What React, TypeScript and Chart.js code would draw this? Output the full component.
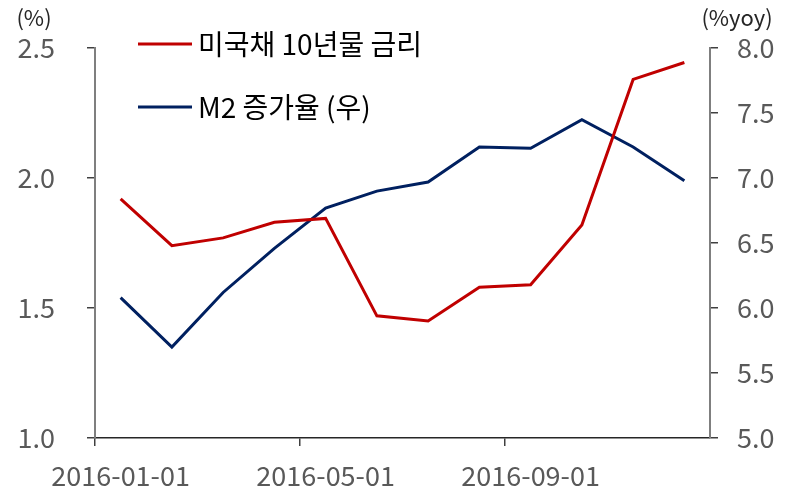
import React, { useEffect, useRef } from "react";
import { Chart, registerables } from "chart.js";

Chart.register(...registerables);

const categories = [
  "2016-01-01", "2016-02-01", "2016-03-01", "2016-04-01", "2016-05-01", "2016-06-01",
  "2016-07-01", "2016-08-01", "2016-09-01", "2016-10-01", "2016-11-01", "2016-12-01",
];
const treasury10y = [1.92, 1.74, 1.77, 1.83, 1.845, 1.47, 1.45, 1.58, 1.59, 1.82, 2.38, 2.445];
const m2Growth = [6.08, 5.70, 6.12, 6.46, 6.77, 6.90, 6.97, 7.24, 7.23, 7.45, 7.24, 6.98];
const seriesNames = ["미국채 10년물 금리", "M2 증가율 (우)"];
const leftUnit = "(%)";
const rightUnit = "(%yoy)";

const FONT = "'Noto Sans CJK KR', 'Noto Sans', sans-serif";
const RED = "#C00000";
const BLUE = "#002060";

const overlayPlugin = {
  id: "overlay",
  afterDraw(chart: any) {
    const { ctx } = chart;
    ctx.save();
    ctx.font = `22px ${FONT}`;
    ctx.fillStyle = "#262626";
    ctx.textBaseline = "middle";
    ctx.textAlign = "center";
    ctx.fillText(leftUnit, 34, 18);
    ctx.fillText(rightUnit, 737, 18);
    // legend
    const colors = [RED, BLUE];
    const ys = [44, 107];
    ctx.font = `28px ${FONT}`;
    ctx.textAlign = "left";
    for (let i = 0; i < 2; i++) {
      ctx.strokeStyle = colors[i];
      ctx.lineWidth = 3;
      ctx.beginPath();
      ctx.moveTo(138, ys[i]);
      ctx.lineTo(192, ys[i]);
      ctx.stroke();
      ctx.fillStyle = "#000000";
      ctx.fillText(seriesNames[i], 198, ys[i]);
    }
    ctx.restore();
  },
};

export default function App() {
  const ref = useRef<HTMLCanvasElement>(null);
  useEffect(() => {
    if (!ref.current) return;
    const chart = new Chart(ref.current, {
      type: "line",
      data: {
        labels: categories,
        datasets: [
          {
            label: seriesNames[0],
            data: treasury10y,
            borderColor: RED,
            backgroundColor: RED,
            borderWidth: 3,
            pointRadius: 0,
            tension: 0,
            yAxisID: "y",
          },
          {
            label: seriesNames[1],
            data: m2Growth,
            borderColor: BLUE,
            backgroundColor: BLUE,
            borderWidth: 3,
            pointRadius: 0,
            tension: 0,
            yAxisID: "y1",
          },
        ],
      },
      options: {
        animation: false,
        responsive: false,
        maintainAspectRatio: false,
        layout: { padding: { top: 47, left: 0, right: 0, bottom: 0 } },
        plugins: { legend: { display: false }, tooltip: { enabled: false } },
        scales: {
          x: {
            type: "category",
            offset: true,
            afterFit: (s: any) => { s.height = 54; },
            border: { display: true, color: "#262626", width: 1.5 },
            grid: {
              display: true,
              offset: true,
              drawOnChartArea: false,
              drawTicks: true,
              tickLength: 8,
              color: (c: any) => (c.index % 4 === 0 ? "#404040" : "rgba(0,0,0,0)"),
              lineWidth: 1.5,
            },
            ticks: {
              autoSkip: false,
              maxRotation: 0,
              minRotation: 0,
              padding: 14,
              color: "#595959",
              font: { family: FONT, size: 27 },
              callback: (_v: any, i: number) => (i % 4 === 0 ? categories[i] : ""),
            },
          },
          y: {
            position: "left",
            min: 1.0,
            max: 2.5,
            afterFit: (s: any) => { s.width = 95; },
            border: { display: true, color: "#7f7f7f", width: 2 },
            grid: { display: true, drawOnChartArea: false, drawTicks: true, tickLength: 8, color: "#404040", lineWidth: 1.5 },
            ticks: {
              stepSize: 0.5,
              padding: 32,
              color: "#595959",
              font: { family: FONT, size: 27 },
              callback: (v: any) => Number(v).toFixed(1),
            },
          },
          y1: {
            position: "right",
            min: 5.0,
            max: 8.0,
            afterFit: (s: any) => { s.width = 76; },
            border: { display: true, color: "#7f7f7f", width: 2 },
            grid: { display: true, drawOnChartArea: false, drawTicks: true, tickLength: 8, color: "#404040", lineWidth: 1.5 },
            ticks: {
              stepSize: 0.5,
              padding: 19,
              color: "#595959",
              font: { family: FONT, size: 27 },
              callback: (v: any) => Number(v).toFixed(1),
            },
          },
        },
      },
      plugins: [overlayPlugin],
    });
    return () => chart.destroy();
  }, []);
  return (
    <div style={{ position: "absolute", left: 0, top: 0, width: 786, height: 492, background: "#fff" }}>
      <canvas ref={ref} width={786} height={492} style={{ width: 786, height: 492 }} />
    </div>
  );
}
